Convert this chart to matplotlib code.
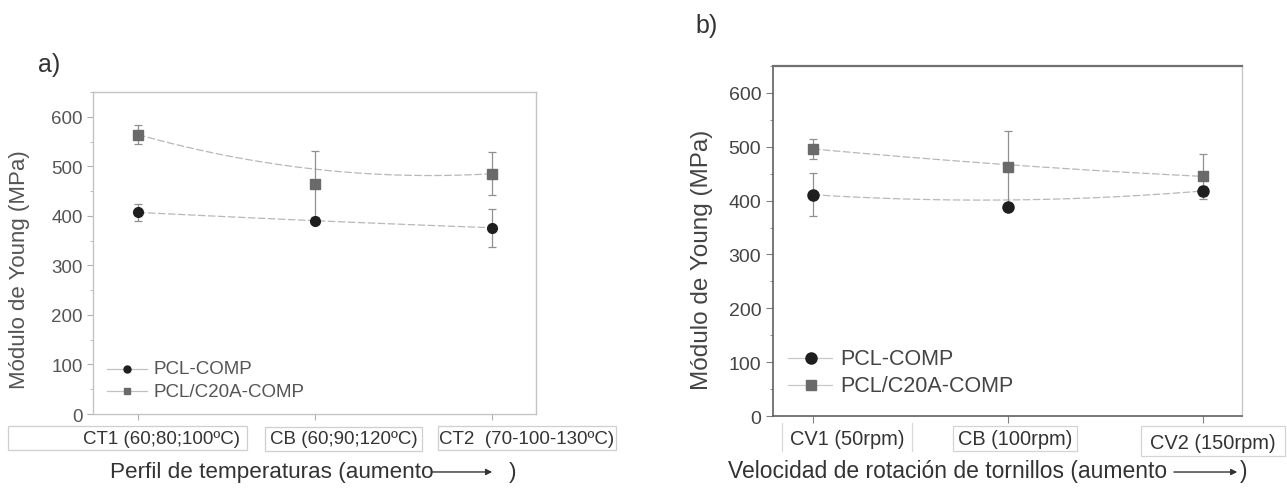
import numpy as np
import matplotlib
matplotlib.use('Agg')
import matplotlib.pyplot as plt
from matplotlib.patches import Rectangle
from matplotlib.ticker import MultipleLocator

plt.rcParams['font.family'] = ['Liberation Sans', 'DejaVu Sans']

# a) temperature profile
temp_labels = ['CT1 (60;80;100ºC)', 'CB (60;90;120ºC)', 'CT2  (70-100-130ºC)']
temp_pcl = [407, 389, 376]
temp_pcl_err = [17, 4, 38]
temp_c20a = [564, 464, 485]
temp_c20a_err = [19, 66, 43]

# b) screw speed
speed_labels = ['CV1 (50rpm)', 'CB (100rpm)', 'CV2 (150rpm)']
speed_pcl = [411, 388, 418]
speed_pcl_err = [40, 4, 10]
speed_c20a = [496, 463, 445]
speed_c20a_err = [18, 67, 42]

TXT = '#333333'


def bspline(y):
    # quadratic B-spline with the three points as control points
    t = np.linspace(0, 1, 200)
    x = 2 * t * (1 - t) * 1 + t ** 2 * 2
    yy = (1 - t) ** 2 * y[0] + 2 * t * (1 - t) * y[1] + t ** 2 * y[2]
    return x, yy


def draw(ax, pcl, pcl_err, c20a, c20a_err, ms_c, ms_s):
    x = np.arange(3)
    for vals, err, mk, col, ms in [(pcl, pcl_err, 'o', '#1e1e1e', ms_c),
                                   (c20a, c20a_err, 's', '#6a6a6a', ms_s)]:
        sx, sy = bspline(vals)
        ax.plot(sx, sy, color='#b8b8b8', lw=0.9, ls=(0, (6, 2)), zorder=1)
        ax.errorbar(x, vals, yerr=err, fmt='none', ecolor='#909090',
                    elinewidth=0.9, capsize=3, capthick=0.9, zorder=2)
        ax.plot(x, vals, ls='none', marker=mk, ms=ms, color=col, zorder=3)
    ax.set_ylim(0, 650)
    ax.set_xticks(x)
    ax.set_xticklabels([])
    ax.yaxis.set_major_locator(MultipleLocator(100))
    ax.yaxis.set_minor_locator(MultipleLocator(50))


def arrow(ax, x0, x1, y):
    ax.annotate('', xy=(x1, y), xytext=(x0, y), xycoords='axes fraction',
                arrowprops=dict(arrowstyle='-|>', color=TXT, lw=1.0,
                                mutation_scale=9, shrinkA=0, shrinkB=0))


fig = plt.figure(figsize=(12.87, 4.89), dpi=100)

# ---- panel a ----
axa = fig.add_axes([0.0723, 0.1513, 0.3442, 0.6585])
draw(axa, temp_pcl, temp_pcl_err, temp_c20a, temp_c20a_err, 7, 6.5)
axa.set_xlim(-0.254, 2.249)
for s in axa.spines.values():
    s.set_color('#c4c4c4')
    s.set_linewidth(1.0)
axa.tick_params(axis='both', which='both', direction='out', color='#b0b0b0',
                labelcolor='#555555', labelsize=13.5)
axa.tick_params(axis='y', which='major', length=4)
axa.tick_params(axis='y', which='minor', length=2)
axa.tick_params(axis='x', length=4)
axa.set_ylabel('Módulo de Young (MPa)', fontsize=16, color='#555555')
axa.yaxis.set_label_coords(-0.142, 0.45)

# legend entries
for yv, mk, col in [(91, 'o', '#1e1e1e'), (46, 's', '#6a6a6a')]:
    axa.plot([-0.175, 0.05], [yv, yv], color='#c0c0c0', lw=0.9)
    axa.plot([-0.06], [yv], mk, color=col, ms=5)
axa.text(0.09, 91, 'PCL-COMP', va='center', fontsize=13.5, color='#555555')
axa.text(0.09, 46, 'PCL/C20A-COMP', va='center', fontsize=13.5, color='#555555')

# boxed category labels
boxes_a = [(-0.192, 0.348, -0.037, -0.112),
           (0.388, 0.743, -0.040, -0.115),
           (0.779, 1.180, -0.037, -0.112)]
for (x0, x1, y0, y1), lab in zip(boxes_a, temp_labels):
    axa.add_patch(Rectangle((x0, y1), x1 - x0, y0 - y1, transform=axa.transAxes,
                            fill=False, ec='#cfcfcf', lw=0.9, clip_on=False))
    if lab.startswith('CT1'):
        axa.text(x1 - 0.016, -0.075, lab, transform=axa.transAxes,
                 ha='right', va='center', fontsize=13.5, color=TXT)
    else:
        axa.text((x0 + x1) / 2, -0.077, lab, transform=axa.transAxes,
                 ha='center', va='center', fontsize=13.5, color=TXT)

axa.text(0.038, -0.177, 'Perfil de temperaturas (aumento', transform=axa.transAxes,
         ha='left', va='center', fontsize=16.2, color=TXT)
arrow(axa, 0.765, 0.901, -0.180)
axa.text(0.946, -0.177, ')', transform=axa.transAxes, ha='center',
         va='center', fontsize=16.2, color=TXT)
fig.text(0.038, 0.867, 'a)', fontsize=18, color=TXT, ha='center', va='center')

# ---- panel b ----
axb = fig.add_axes([0.6006, 0.1472, 0.3644, 0.7157])
draw(axb, speed_pcl, speed_pcl_err, speed_c20a, speed_c20a_err, 8, 7.2)
axb.set_xlim(-0.205, 2.2)
axb.spines['top'].set_color('#707070')
axb.spines['top'].set_linewidth(1.6)
for side in ('left', 'bottom'):
    axb.spines[side].set_color('#606060')
    axb.spines[side].set_linewidth(1.2)
axb.spines['right'].set_color('#c8c8c8')
axb.spines['right'].set_linewidth(1.0)
axb.tick_params(axis='both', which='both', direction='out', color='#808080',
                labelcolor='#444444', labelsize=14)
axb.tick_params(axis='y', which='major', length=5)
axb.tick_params(axis='y', which='minor', length=2.5)
axb.tick_params(axis='x', length=5)
axb.set_ylabel('Módulo de Young (MPa)', fontsize=17.5, color='#444444')
axb.yaxis.set_label_coords(-0.128, 0.45)

for yv, mk, col, ms in [(107, 'o', '#1e1e1e', 8), (57, 's', '#6a6a6a', 7)]:
    axb.plot([-0.13, 0.10], [yv, yv], color='#c8c8c8', lw=0.9)
    axb.plot([-0.01], [yv], mk, color=col, ms=ms)
axb.text(0.14, 107, 'PCL-COMP', va='center', fontsize=15.5, color='#444444')
axb.text(0.14, 57, 'PCL/C20A-COMP', va='center', fontsize=15.5, color='#444444')

boxes_b = [(0.019, 0.296, -0.020, -0.100),
           (0.384, 0.648, -0.029, -0.100),
           (0.785, 1.092, -0.029, -0.114)]
label_y_b = [-0.063, -0.065, -0.077]
for i, ((x0, x1, y0, y1), lab) in enumerate(zip(boxes_b, speed_labels)):
    if i == 0:
        for xx in (x0, x1):
            axb.plot([xx, xx], [y0, y1], transform=axb.transAxes,
                     color='#d8d8d8', lw=0.9, clip_on=False)
    else:
        axb.add_patch(Rectangle((x0, y1), x1 - x0, y0 - y1,
                                transform=axb.transAxes, fill=False,
                                ec='#d4d4d4', lw=0.9, clip_on=False))
    axb.text((x0 + x1) / 2, label_y_b[i], lab, transform=axb.transAxes,
             ha='center', va='center', fontsize=14.4, color=TXT)

axb.text(-0.096, -0.157, 'Velocidad de rotación de tornillos (aumento',
         transform=axb.transAxes, ha='left', va='center', fontsize=16.5,
         color=TXT)
arrow(axb, 0.855, 0.99, -0.160)
axb.text(1.003, -0.157, ')', transform=axb.transAxes, ha='center',
         va='center', fontsize=16.5, color=TXT)
fig.text(0.549, 0.947, 'b)', fontsize=18, color=TXT, ha='center', va='center')

fig.savefig('out.png', dpi=100)
